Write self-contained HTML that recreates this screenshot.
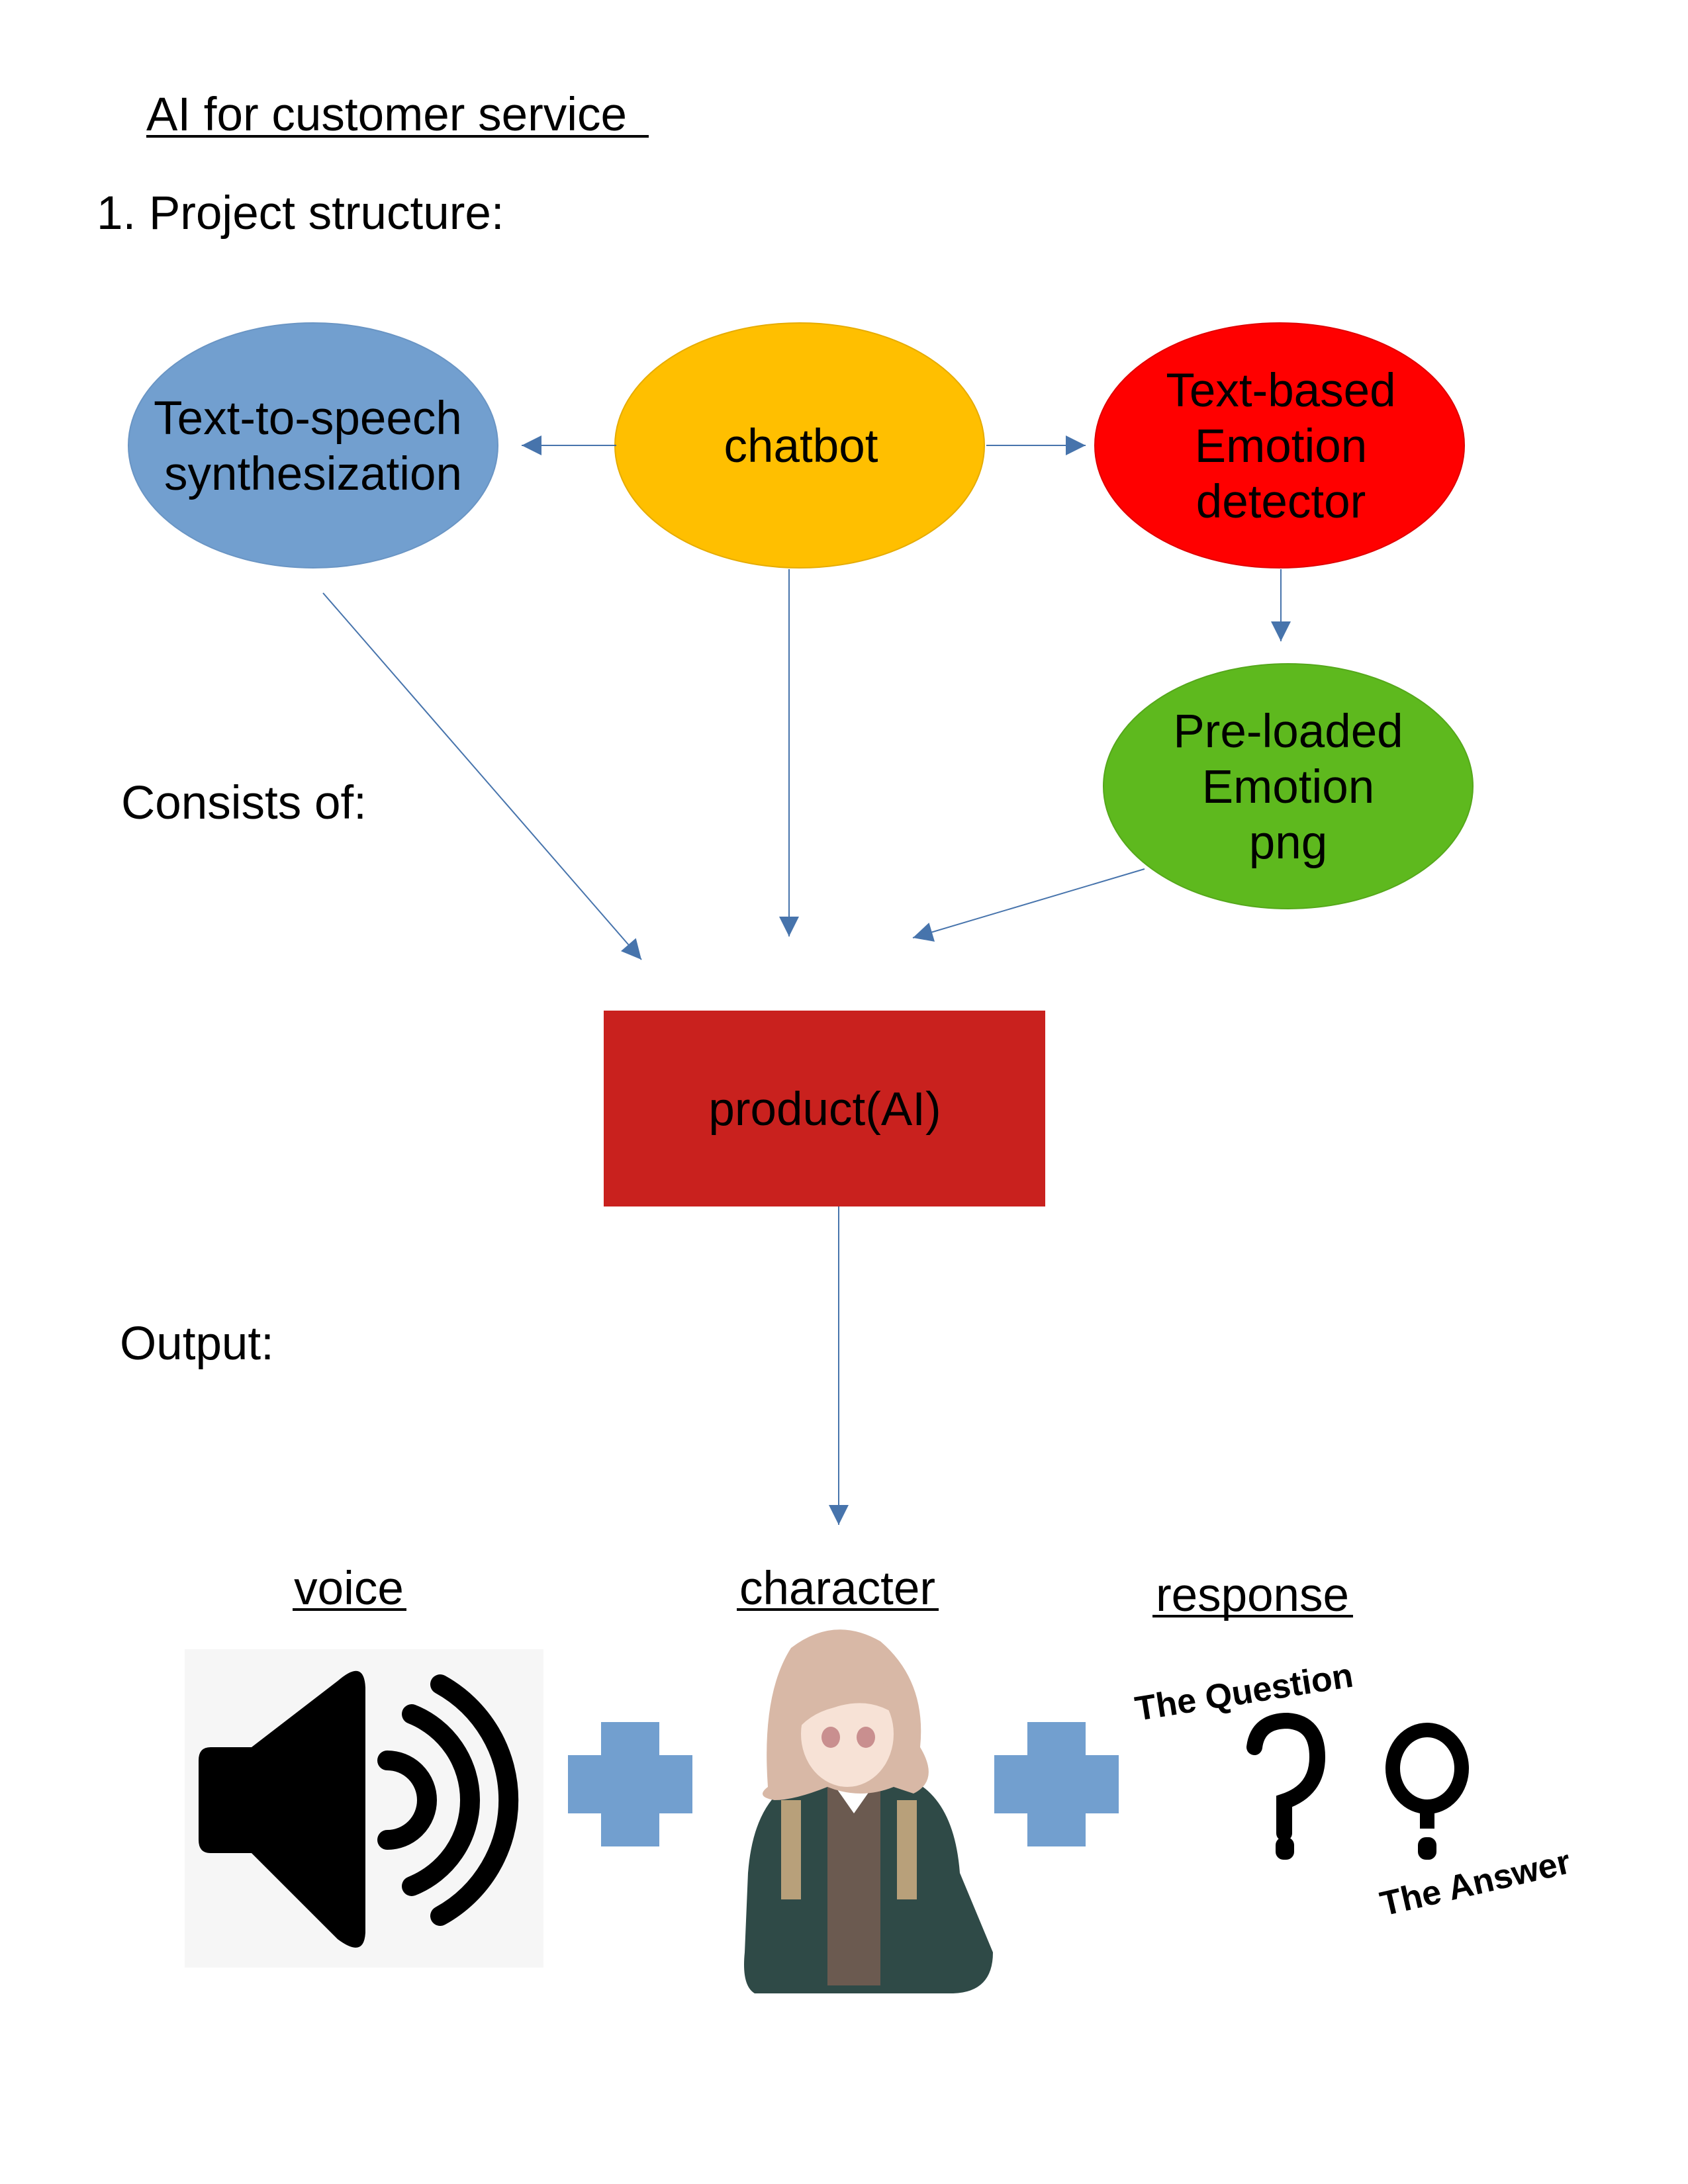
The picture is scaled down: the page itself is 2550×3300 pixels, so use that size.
<!DOCTYPE html>
<html><head><meta charset="utf-8"><style>
html,body{margin:0;padding:0;background:#fff;}
svg{display:block;}
text{font-family:"Liberation Sans",sans-serif;}
</style></head><body>
<svg width="2550" height="3300" viewBox="0 0 2550 3300" xmlns="http://www.w3.org/2000/svg">
<defs>
<marker id="ah" viewBox="0 0 10 10" refX="10" refY="5" markerWidth="34" markerHeight="30" markerUnits="userSpaceOnUse" orient="auto">
<path d="M0,0 L10,5 L0,10 z" fill="#3465a4"/></marker>
</defs>
<rect width="2550" height="3300" fill="#fff"/>
<text x="221" y="197" font-size="71" fill="#000">AI for customer service</text>
<line x1="221" y1="206" x2="980" y2="206" stroke="#000" stroke-width="4"/>
<text x="146" y="346" font-size="71">1. Project structure:</text>

<ellipse cx="473" cy="673" rx="279" ry="185" fill="#729fcf" stroke="#6a95c4" stroke-width="2"/>
<text x="465" y="656" font-size="71" text-anchor="middle">Text-to-speech</text>
<text x="473" y="740" font-size="71" text-anchor="middle">synthesization</text>

<ellipse cx="1208" cy="673" rx="279" ry="185" fill="#ffbf00" stroke="#e6ac00" stroke-width="2"/>
<text x="1210" y="698" font-size="71" text-anchor="middle">chatbot</text>

<ellipse cx="1933" cy="673" rx="279" ry="185" fill="#ff0000" stroke="#e00000" stroke-width="2"/>
<text x="1935" y="614" font-size="71" text-anchor="middle">Text-based</text>
<text x="1935" y="698" font-size="71" text-anchor="middle">Emotion</text>
<text x="1935" y="782" font-size="71" text-anchor="middle">detector</text>

<ellipse cx="1946" cy="1188" rx="279" ry="185" fill="#5eb91e" stroke="#55a81b" stroke-width="2"/>
<text x="1946" y="1129" font-size="71" text-anchor="middle">Pre-loaded</text>
<text x="1946" y="1213" font-size="71" text-anchor="middle">Emotion</text>
<text x="1946" y="1297" font-size="71" text-anchor="middle">png</text>

<g stroke="#3465a4" stroke-width="2" fill="none" opacity="0.9">
<line x1="931" y1="673" x2="788" y2="673" marker-end="url(#ah)"/>
<line x1="1490" y1="673" x2="1640" y2="673" marker-end="url(#ah)"/>
<line x1="1935" y1="860" x2="1935" y2="969" marker-end="url(#ah)"/>
<line x1="488" y1="896" x2="969" y2="1450" marker-end="url(#ah)"/>
<line x1="1192" y1="860" x2="1192" y2="1415" marker-end="url(#ah)"/>
<line x1="1729" y1="1313" x2="1379" y2="1417" marker-end="url(#ah)"/>
<line x1="1267" y1="1823" x2="1267" y2="2304" marker-end="url(#ah)"/>
</g>

<text x="183" y="1237" font-size="71">Consists of:</text>

<rect x="912" y="1527" width="667" height="296" fill="#c9211e"/>
<text x="1246" y="1700" font-size="71" text-anchor="middle">product(AI)</text>

<text x="181" y="2054" font-size="71">Output:</text>

<text x="527" y="2424" font-size="71" text-anchor="middle">voice</text>
<line x1="442" y1="2432" x2="614" y2="2432" stroke="#000" stroke-width="4"/>
<text x="1265" y="2424" font-size="71" text-anchor="middle">character</text>
<line x1="1113" y1="2432" x2="1418" y2="2432" stroke="#000" stroke-width="4"/>
<text x="1892" y="2434" font-size="71" text-anchor="middle">response</text>
<line x1="1741" y1="2442" x2="2044" y2="2442" stroke="#000" stroke-width="4"/>

<!-- speaker -->
<rect x="279" y="2492" width="542" height="481" fill="#f6f6f6"/>
<path d="M318,2640 Q300,2640 300,2660 L300,2780 Q300,2800 318,2800 L380,2800 L510,2930 Q550,2960 552,2920 L552,2550 Q550,2505 510,2540 L380,2640 Z" fill="#000"/>
<g fill="none" stroke="#000" stroke-width="30" stroke-linecap="round">
<path d="M585,2660 A60,60 0 0 1 585,2780"/>
<path d="M622,2590 A140,140 0 0 1 622,2850"/>
<path d="M665,2545 A200,200 0 0 1 665,2895"/>
</g>

<!-- plus signs -->
<g fill="#729fcf">
<rect x="858" y="2652" width="188" height="88"/><rect x="908" y="2602" width="88" height="188"/>
<rect x="1502" y="2652" width="188" height="88"/><rect x="1552" y="2602" width="88" height="188"/>
</g>

<!-- character (approximation) -->
<g>
<path d="M1130,2830 Q1140,2700 1230,2680 L1350,2680 Q1440,2700 1450,2830 L1500,2950 Q1500,3010 1440,3012 L1140,3012 Q1120,3000 1125,2950 Z" fill="#2f4a47"/>
<rect x="1250" y="2700" width="80" height="300" fill="#6b5a50"/>
<path d="M1255,2690 L1290,2740 L1325,2690" fill="#fff"/>
<path d="M1160,2700 Q1150,2560 1195,2490 Q1260,2440 1330,2480 Q1400,2540 1390,2640 Q1420,2690 1380,2710 L1350,2700 Q1300,2720 1250,2700 Q1200,2720 1170,2720 Q1140,2715 1160,2700 Z" fill="#d8b8a6"/>
<ellipse cx="1280" cy="2620" rx="70" ry="80" fill="#f7e2d6"/>
<path d="M1200,2600 Q1240,2520 1330,2540 Q1360,2560 1365,2600 Q1320,2560 1260,2580 Q1220,2590 1200,2620 Z" fill="#d8b8a6"/>
<ellipse cx="1255" cy="2625" rx="14" ry="16" fill="#c98f8f"/>
<ellipse cx="1308" cy="2625" rx="14" ry="16" fill="#c98f8f"/>
<rect x="1180" y="2720" width="30" height="150" fill="#b8a07a"/>
<rect x="1355" y="2720" width="30" height="150" fill="#b8a07a"/>
</g>

<!-- question/answer -->
<text transform="translate(1718,2600) rotate(-9)" font-size="52" font-weight="bold">The Question</text>
<path d="M1895,2640 Q1900,2600 1945,2600 Q1990,2603 1990,2655 Q1990,2705 1940,2722 L1940,2770" fill="none" stroke="#000" stroke-width="24" stroke-linecap="round"/>
<rect x="1927" y="2776" width="28" height="34" rx="12" fill="#000"/>
<ellipse cx="2156" cy="2672" rx="52" ry="58" fill="none" stroke="#000" stroke-width="22"/>
<rect x="2145" y="2725" width="22" height="38" fill="#000"/>
<rect x="2142" y="2776" width="28" height="34" rx="12" fill="#000"/>
<text transform="translate(2090,2895) rotate(-13)" font-size="52" font-weight="bold">The Answer</text>
</svg>
</body></html>
